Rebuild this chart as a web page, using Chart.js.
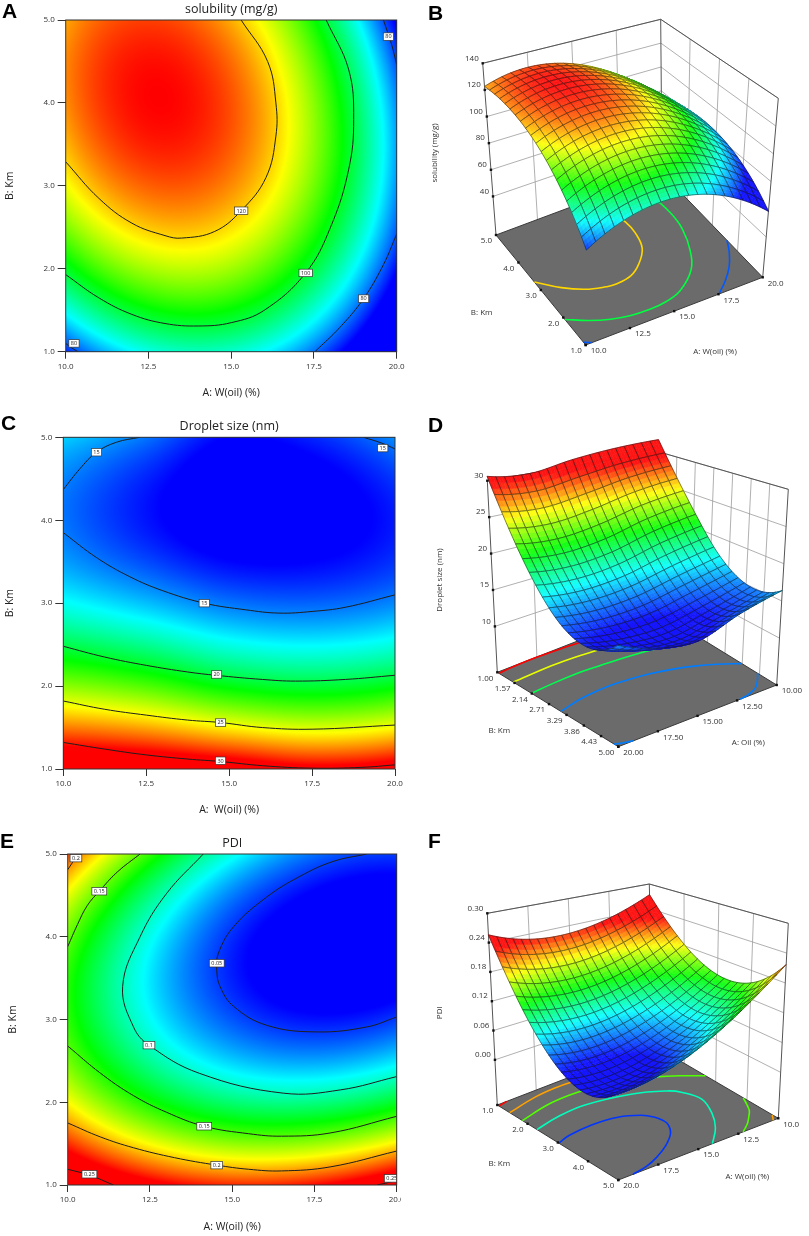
<!DOCTYPE html>
<html>
<head>
<meta charset="utf-8">
<script src="https://cdn.jsdelivr.net/npm/chart.js@4.4.1/dist/chart.umd.min.js"></script>
<style>
html, body { margin: 0; padding: 0; background: #fff; }
body { width: 809px; height: 1236px; position: relative; overflow: hidden; }
.pane { position: absolute; overflow: hidden; }
.inner { position: absolute; left: 0; top: 0; }
.tag { position: absolute; font: bold 21px "Liberation Sans", Arial, sans-serif; line-height: 21px; color: #000; }
</style>
</head>
<body>
<div class="pane" style="left:0;top:0;width:409px;height:410px"><canvas id="cA"></canvas></div>
<div class="pane" style="left:410px;top:0;width:399px;height:410px"><canvas id="cB"></canvas></div>
<div class="pane" style="left:0;top:410px;width:409px;height:420px"><canvas id="cC"></canvas></div>
<div class="pane" style="left:410px;top:410px;width:399px;height:420px"><canvas id="cD"></canvas></div>
<div class="pane" style="left:0;top:830px;width:401px;height:406px"><div class="inner" style="width:409px;height:406px"><canvas id="cE"></canvas></div></div>
<div class="pane" style="left:410px;top:830px;width:399px;height:406px"><canvas id="cF"></canvas></div>
<div class="tag" style="left:2px;top:0px">A</div>
<div class="tag" style="left:428px;top:2px">B</div>
<div class="tag" style="left:1px;top:412px">C</div>
<div class="tag" style="left:428px;top:414px">D</div>
<div class="tag" style="left:0px;top:830px">E</div>
<div class="tag" style="left:428px;top:830px">F</div>
<script>
// ---- factor levels and ticks ----
const oilLevels = [10, 12.5, 15, 17.5, 20];   // A: W(oil) (%)
const kmLevels = [1, 2, 3, 4, 5];             // B: Km
const oilTicks = [10, 12.5, 15, 17.5, 20];
const kmTicks = [1, 2, 3, 4, 5];
const dropKmTicks = [1.00, 1.57, 2.14, 2.71, 3.29, 3.86, 4.43, 5.00];
const solZTicks = [40, 60, 80, 100, 120, 140];
const dropZTicks = [10, 15, 20, 25, 30];
const pdiZTicks = [0, 0.06, 0.12, 0.18, 0.24, 0.30];

// ---- responses, rows = Km 1..5, columns = oil 10..20 ----
const solubility = [
  [77.2, 90.6, 92.0, 81.3, 58.5],
  [101.4, 112.9, 112.4, 99.8, 75.2],
  [117.1, 126.7, 124.2, 109.8, 83.2],
  [124.1, 131.9, 127.5, 111.1, 82.7],
  [122.6, 128.5, 122.2, 103.9, 73.6]
];
const dropletSize = [
  [32.0, 31.7, 31.0, 30.0, 30.6],
  [23.5, 22.5, 21.0, 20.4, 21.0],
  [17.3, 16.1, 14.9, 14.6, 15.2],
  [14.9, 13.3, 12.1, 12.3, 13.4],
  [16.4, 14.9, 13.0, 13.6, 15.3]
];
const pdi = [
  [0.274, 0.238, 0.223, 0.229, 0.256],
  [0.183, 0.138, 0.114, 0.111, 0.128],
  [0.143, 0.089, 0.056, 0.043, 0.051],
  [0.154, 0.091, 0.048, 0.027, 0.025],
  [0.217, 0.144, 0.092, 0.061, 0.051]
];

// ---- contour lines [oil, Km] ----
const sol120 = [[10, 3.29], [11, 2.85], [12, 2.55], [13, 2.4], [13.5, 2.37], [14.5, 2.45], [15.3, 2.7], [16.05, 3.1], [16.35, 3.6], [16.35, 4.0], [16.1, 4.5], [15.3, 5.0]];
const sol100 = [[10, 1.93], [11, 1.65], [12, 1.45], [13, 1.34], [14, 1.31], [15, 1.35], [16, 1.5], [17.25, 1.95], [18, 2.5], [18.55, 3.2], [18.7, 3.8], [18.55, 4.4], [17.87, 5.0]];
const sol80a = [[17.53, 1.0], [18.3, 1.3], [19.0, 1.64], [19.6, 2.05], [20, 2.42]];
const sol80b = [[19.6, 5.0], [19.85, 4.7], [20, 4.46]];
const sol80c = [[10, 1.1], [10.2, 1.04], [10.37, 1.0]];
const solLines = [sol120, sol100, sol80a, sol80b, sol80c];
const solLevels = [120, 100, 80, 80, 80];
const solLabels = [[15.3, 2.7, '120'], [17.25, 1.95, '100'], [19.0, 1.64, '80'], [19.75, 4.8, '80'], [10.25, 1.1, '80']];

const drop15a = [[10, 4.37], [10.5, 4.62], [11, 4.82], [11.6, 4.94], [12.3, 5.0]];
const drop15b = [[19.05, 5.0], [19.6, 4.93], [20, 4.86]];
const drop15c = [[10, 3.85], [11, 3.55], [12, 3.32], [13, 3.15], [14.25, 3.0], [15.5, 2.92], [16.5, 2.88], [17.5, 2.9], [18.5, 2.95], [20, 3.1]];
const drop20 = [[10, 2.48], [11.25, 2.35], [12.5, 2.25], [13.75, 2.17], [14.6, 2.13], [16, 2.08], [17, 2.06], [18.5, 2.08], [20, 2.13]];
const drop25 = [[10, 1.82], [11.25, 1.72], [12.5, 1.65], [13.75, 1.59], [14.75, 1.56], [16, 1.5], [17.5, 1.48], [20, 1.53]];
const drop30 = [[10, 1.32], [11.25, 1.24], [12.5, 1.17], [13.75, 1.12], [14.75, 1.09], [16, 1.04], [17.5, 1.01], [19, 1.02], [20, 1.05]];
const dropLines = [drop15a, drop15b, drop15c, drop20, drop25, drop30];
const dropLevels = [15, 15, 15, 20, 25, 30];
const dropLabels = [[11.0, 4.82, '15'], [19.63, 4.87, '15'], [14.25, 3.0, '15'], [14.62, 2.14, '20'], [14.74, 1.56, '25'], [14.74, 1.1, '30']];

const pdi02a = [[10, 4.81], [10.15, 4.9], [10.32, 5.0]];
const pdi015a = [[10, 3.88], [10.3, 4.15], [10.6, 4.38], [10.96, 4.55], [11.5, 4.78], [12.2, 5.0]];
const pdi01 = [[14.12, 5.0], [13.0, 4.52], [12.2, 4.0], [11.67, 3.4], [12.0, 2.91], [12.47, 2.69], [14.0, 2.35], [16.55, 2.11], [18.3, 2.15], [20, 2.31]];
const pdi005 = [[19.09, 5.0], [18.07, 4.91], [17.06, 4.73], [16.05, 4.48], [15.04, 4.12], [14.58, 3.8], [14.53, 3.6], [14.63, 3.4], [15.04, 3.16], [16.05, 2.93], [17.57, 2.85], [19.09, 2.91], [20, 3.03]];
const pdi015b = [[10, 2.68], [11, 2.35], [12, 2.08], [13, 1.88], [14.15, 1.71], [15.5, 1.62], [16.5, 1.59], [18, 1.63], [20, 1.83]];
const pdi02b = [[10, 1.75], [11, 1.58], [12, 1.45], [13.25, 1.33], [14.53, 1.24], [15.5, 1.19], [16.5, 1.17], [18, 1.22], [20, 1.41]];
const pdi025a = [[10, 1.19], [10.66, 1.12], [11.39, 1.0]];
const pdi025b = [[19.4, 1.0], [19.75, 1.03], [20, 1.06]];
const pdiLines = [pdi02a, pdi015a, pdi01, pdi005, pdi015b, pdi02b, pdi025a, pdi025b];
const pdiLevels = [0.2, 0.15, 0.1, 0.05, 0.15, 0.2, 0.25, 0.25];
const pdiLabels = [[10.25, 4.95, '0.2'], [10.96, 4.55, '0.15'], [12.47, 2.69, '0.1'], [14.53, 3.68, '0.05'], [14.15, 1.71, '0.15'], [14.53, 1.24, '0.2'], [10.66, 1.13, '0.25'], [19.85, 1.08, '0.25']];

// ---- colour + surface helpers ----
const rainbowStops = [[0, 0, 255], [0, 255, 255], [0, 255, 0], [255, 255, 0], [255, 0, 0]];
function rainbow(t, lift) {
  t = Math.max(0, Math.min(1, t)) * 4;
  const i = Math.min(3, Math.floor(t)), f = t - i;
  const a = rainbowStops[i], b = rainbowStops[i + 1];
  const c = [0, 1, 2].map(k => a[k] + (b[k] - a[k]) * f);
  if (lift) for (let k = 0; k < 3; k++) c[k] += (255 - c[k]) * lift;
  return c;
}
const css = c => 'rgb(' + c.map(Math.round).join(',') + ')';

function padGrid(g) {
  const ext = r => [3 * r[0] - 3 * r[1] + r[2], ...r, 3 * r[r.length - 1] - 3 * r[r.length - 2] + r[r.length - 3]];
  const rows = g.map(ext), n = rows.length;
  const first = rows[0].map((_, k) => 3 * rows[0][k] - 3 * rows[1][k] + rows[2][k]);
  const last = rows[0].map((_, k) => 3 * rows[n - 1][k] - 3 * rows[n - 2][k] + rows[n - 3][k]);
  return [first, ...rows, last];
}
function cr(p0, p1, p2, p3, t) {
  return 0.5 * (2 * p1 + (p2 - p0) * t + (2 * p0 - 5 * p1 + 4 * p2 - p3) * t * t + (3 * p1 - p0 - 3 * p2 + p3) * t * t * t);
}
function sample(pg, a, b) {
  const nx = oilLevels.length, ny = kmLevels.length;
  let gx = (a - oilLevels[0]) / (oilLevels[1] - oilLevels[0]);
  let gy = (b - kmLevels[0]) / (kmLevels[1] - kmLevels[0]);
  gx = Math.max(0, Math.min(nx - 1, gx));
  gy = Math.max(0, Math.min(ny - 1, gy));
  const i = Math.min(nx - 2, Math.floor(gx)), j = Math.min(ny - 2, Math.floor(gy));
  const tx = gx - i, ty = gy - j;
  const col = [];
  for (let k = 0; k < 4; k++) {
    const r = pg[j + k];
    col.push(cr(r[i], r[i + 1], r[i + 2], r[i + 3], tx));
  }
  return cr(col[0], col[1], col[2], col[3], ty);
}

// ---- 2D contour maps ----
const tickFont = { family: 'Open Sans', size: 8 };
const axisFont = { family: 'Open Sans', size: 10.5 };

function heatLayer(o) {
  const pg = padGrid(o.grid);
  return {
    id: 'heat',
    beforeDatasetsDraw(chart) {
      const { ctx, chartArea: ca, scales: { x, y } } = chart;
      const w = Math.round(ca.right - ca.left), h = Math.round(ca.bottom - ca.top);
      const off = document.createElement('canvas');
      off.width = w; off.height = h;
      const octx = off.getContext('2d');
      const img = octx.createImageData(w, h);
      for (let py = 0; py < h; py++) {
        const b = y.getValueForPixel(ca.top + py + 0.5);
        for (let px = 0; px < w; px++) {
          const a = x.getValueForPixel(ca.left + px + 0.5);
          const c = rainbow((sample(pg, a, b) - o.lo) / (o.hi - o.lo));
          const k = (py * w + px) * 4;
          img.data[k] = c[0]; img.data[k + 1] = c[1]; img.data[k + 2] = c[2]; img.data[k + 3] = 255;
        }
      }
      octx.putImageData(img, 0, 0);
      ctx.drawImage(off, ca.left, ca.top, ca.right - ca.left, ca.bottom - ca.top);
    }
  };
}

function marksLayer(o) {
  return {
    id: 'marks',
    afterDatasetsDraw(chart) {
      const { ctx, chartArea: ca, scales: { x, y } } = chart;
      ctx.save();
      ctx.beginPath();
      ctx.rect(ca.left, ca.top, ca.right - ca.left, ca.bottom - ca.top);
      ctx.clip();
      ctx.font = '5.5px "Open Sans"';
      ctx.textAlign = 'center';
      ctx.textBaseline = 'middle';
      o.labels.forEach(l => {
        const cx = x.getPixelForValue(l[0]), cy = y.getPixelForValue(l[1]);
        const tw = ctx.measureText(l[2]).width + 4, th = 7.5;
        ctx.fillStyle = '#fff';
        ctx.fillRect(cx - tw / 2, cy - th / 2, tw, th);
        ctx.strokeStyle = '#333';
        ctx.lineWidth = 0.7;
        ctx.strokeRect(cx - tw / 2, cy - th / 2, tw, th);
        ctx.fillStyle = '#222';
        ctx.fillText(l[2], cx, cy + 0.3);
      });
      ctx.restore();

      ctx.save();
      ctx.strokeStyle = '#333';
      ctx.lineWidth = 1;
      ctx.strokeRect(ca.left, ca.top, ca.right - ca.left, ca.bottom - ca.top);
      ctx.font = '12.5px "Open Sans"';
      ctx.fillStyle = '#222';
      ctx.textAlign = 'center';
      ctx.textBaseline = 'middle';
      ctx.fillText(o.title, (ca.left + ca.right) / 2, ca.top - 10.5);
      ctx.restore();
    }
  };
}

function contourChart(id, o) {
  return new Chart(document.getElementById(id), {
    type: 'scatter',
    data: {
      datasets: o.lines.map(pts => ({
        data: pts.map(p => ({ x: p[0], y: p[1] })),
        showLine: true,
        borderColor: '#1e1e1e',
        borderWidth: 1,
        pointRadius: 0,
        tension: 0.4
      }))
    },
    options: {
      responsive: true,
      maintainAspectRatio: false,
      animation: false,
      events: [],
      layout: { padding: o.pad },
      plugins: { legend: { display: false }, tooltip: { enabled: false } },
      scales: {
        x: {
          type: 'linear', min: 10, max: 20,
          afterBuildTicks: s => { s.ticks = oilTicks.map(v => ({ value: v })); },
          afterFit: s => { s.height = o.xAxisH; },
          ticks: { font: tickFont, color: '#333', padding: 3, maxRotation: 0, autoSkip: false, callback: v => v.toFixed(1) },
          grid: { drawOnChartArea: false, tickLength: 7, color: '#333' },
          border: { display: false },
          title: { display: true, text: o.xTitle, font: axisFont, color: '#222', padding: { top: 0, bottom: o.xTitlePad } }
        },
        y: {
          type: 'linear', min: 1, max: 5,
          afterBuildTicks: s => { s.ticks = kmTicks.map(v => ({ value: v })); },
          afterFit: s => { s.width = o.yAxisW; },
          ticks: { font: tickFont, color: '#333', padding: 3, autoSkip: false, callback: v => v.toFixed(1) },
          grid: { drawOnChartArea: false, tickLength: 8, color: '#333' },
          border: { display: false },
          title: { display: true, text: 'B: Km', font: axisFont, color: '#222', padding: { top: o.yTitlePad, bottom: 0 } }
        }
      }
    },
    plugins: [heatLayer(o), marksLayer(o)]
  });
}

// ---- 3D response surfaces ----
function surfaceChart(id, o) {
  const L = o.lay;
  const c = {};
  ['f0', 'r0', 'l0', 'k0', 'f1', 'r1', 'l1', 'k1'].forEach(k => { c[k] = [L[k][0] - L.left, L[k][1] - L.top]; });
  const uOf = a => (a - o.uFrom) / (o.uTo - o.uFrom);
  const vOf = b => (b - o.vFrom) / (o.vTo - o.vFrom);
  const wOf = z => (z - o.zlo) / (o.zhi - o.zlo);
  const bot = ['f0', 'r0', 'l0', 'k0'], top = ['f1', 'r1', 'l1', 'k1'];
  function P(u, v, w) {
    const m = [(1 - u) * (1 - v), u * (1 - v), (1 - u) * v, u * v];
    let x = 0, y = 0;
    for (let k = 0; k < 4; k++) {
      x += m[k] * (c[bot[k]][0] * (1 - w) + c[top[k]][0] * w);
      y += m[k] * (c[bot[k]][1] * (1 - w) + c[top[k]][1] * w);
    }
    return { x, y };
  }
  const pg = padGrid(o.grid);
  const lineColour = lv => css(rainbow((lv - o.lo) / (o.hi - o.lo)));

  const box = {
    id: 'box3d',
    beforeDatasetsDraw(chart) {
      const { ctx, scales: { x, y } } = chart;
      const px = p => [x.getPixelForValue(p.x), y.getPixelForValue(p.y)];
      const seg = (p, q) => { const a = px(p), b = px(q); ctx.moveTo(a[0], a[1]); ctx.lineTo(b[0], b[1]); };
      ctx.save();
      ctx.strokeStyle = '#9c9c9c';
      ctx.lineWidth = 0.8;
      ctx.beginPath();
      o.zTicks.forEach(z => { const w = wOf(z); seg(P(0, 1, w), P(1, 1, w)); seg(P(1, 0, w), P(1, 1, w)); });
      oilTicks.forEach(a => { const u = uOf(a); if (u > 0.001 && u < 0.999) seg(P(u, 1, 0), P(u, 1, 1)); });
      o.kmTicks.forEach(b => { const v = vOf(b); if (v > 0.001 && v < 0.999) seg(P(1, v, 0), P(1, v, 1)); });
      ctx.stroke();
      ctx.strokeStyle = '#555';
      ctx.lineWidth = 1;
      ctx.beginPath();
      seg(P(0, 1, 0), P(0, 1, 1)); seg(P(1, 1, 0), P(1, 1, 1)); seg(P(1, 0, 0), P(1, 0, 1));
      seg(P(0, 1, 1), P(1, 1, 1)); seg(P(1, 1, 1), P(1, 0, 1));
      ctx.stroke();
      const fl = [P(0, 0, 0), P(1, 0, 0), P(1, 1, 0), P(0, 1, 0)].map(px);
      ctx.beginPath();
      fl.forEach((p, i) => i ? ctx.lineTo(p[0], p[1]) : ctx.moveTo(p[0], p[1]));
      ctx.closePath();
      ctx.fillStyle = '#6b6b6b';
      ctx.fill();
      ctx.strokeStyle = '#3a3a3a';
      ctx.stroke();
      ctx.restore();
    },
    afterDatasetsDraw(chart) {
      const { ctx, scales: { x, y } } = chart;
      const N = 20, S = 3, M = N * S;
      const vert = [], vals = [];
      for (let i = 0; i <= M; i++) {
        vert.push([]); vals.push([]);
        for (let j = 0; j <= M; j++) {
          const a = o.uFrom + (o.uTo - o.uFrom) * i / M, b = o.vFrom + (o.vTo - o.vFrom) * j / M;
          const z = sample(pg, a, b);
          const p = P(i / M, j / M, wOf(z));
          vert[i].push([x.getPixelForValue(p.x), y.getPixelForValue(p.y)]);
          vals[i].push(z);
        }
      }
      const cells = [];
      for (let i = 0; i < N; i++) for (let j = 0; j < N; j++) cells.push([i, j]);
      cells.sort((p, q) => (q[0] + q[1]) - (p[0] + p[1]));
      ctx.save();
      ctx.lineJoin = 'round';
      cells.forEach(([ci, cj]) => {
        for (let si = 0; si < S; si++) {
          for (let sj = 0; sj < S; sj++) {
            const i = ci * S + si, j = cj * S + sj;
            const val = (vals[i][j] + vals[i + 1][j] + vals[i + 1][j + 1] + vals[i][j + 1]) / 4;
            const q = [vert[i][j], vert[i + 1][j], vert[i + 1][j + 1], vert[i][j + 1]];
            const col = css(rainbow((val - o.lo) / (o.hi - o.lo), 0.08));
            ctx.beginPath();
            q.forEach((p, k) => k ? ctx.lineTo(p[0], p[1]) : ctx.moveTo(p[0], p[1]));
            ctx.closePath();
            ctx.fillStyle = col;
            ctx.strokeStyle = col;
            ctx.lineWidth = 0.6;
            ctx.fill();
            ctx.stroke();
          }
        }
        // cell outline
        const i0 = ci * S, j0 = cj * S;
        ctx.beginPath();
        ctx.moveTo(vert[i0][j0][0], vert[i0][j0][1]);
        for (let k = 1; k <= S; k++) ctx.lineTo(vert[i0 + k][j0][0], vert[i0 + k][j0][1]);
        for (let k = 1; k <= S; k++) ctx.lineTo(vert[i0 + S][j0 + k][0], vert[i0 + S][j0 + k][1]);
        for (let k = S - 1; k >= 0; k--) ctx.lineTo(vert[i0 + k][j0 + S][0], vert[i0 + k][j0 + S][1]);
        for (let k = S - 1; k >= 0; k--) ctx.lineTo(vert[i0][j0 + k][0], vert[i0][j0 + k][1]);
        ctx.closePath();
        ctx.lineWidth = 0.6;
        ctx.strokeStyle = 'rgba(20,20,20,0.85)';
        ctx.stroke();
      });
      ctx.restore();

      const px = p => [x.getPixelForValue(p.x), y.getPixelForValue(p.y)];
      ctx.save();
      ctx.fillStyle = '#111';
      const dot = p => { const q = px(p); ctx.fillRect(q[0] - 1.2, q[1] - 1.2, 2.4, 2.4); };
      o.zTicks.forEach(z => dot(P(0, 1, wOf(z))));
      o.kmTicks.forEach(b => dot(P(0, vOf(b), 0)));
      oilTicks.forEach(a => dot(P(uOf(a), 0, 0)));
      ctx.font = '8px "Open Sans"';
      ctx.fillStyle = '#333';
      ctx.textBaseline = 'middle';
      ctx.textAlign = 'right';
      o.zTicks.forEach(z => { const q = px(P(0, 1, wOf(z))); ctx.fillText(o.zFmt(z), q[0] - 4, q[1] - 5); });
      o.kmTicks.forEach(b => { const q = px(P(0, vOf(b), 0)); ctx.fillText(o.abFmt(b), q[0] - 4, q[1] + 6); });
      ctx.textAlign = 'left';
      oilTicks.forEach(a => { const q = px(P(uOf(a), 0, 0)); ctx.fillText(o.abFmt(a), q[0] + 5, q[1] + 6); });
      ctx.textAlign = 'center';
      const at = t => [x.getPixelForValue(t[0] - L.left), y.getPixelForValue(t[1] - L.top)];
      let q = at(L.bTitle); ctx.fillText('B: Km', q[0], q[1]);
      q = at(L.aTitle); ctx.fillText(o.aTitle, q[0], q[1]);
      q = at(L.zTitle);
      ctx.translate(q[0], q[1]);
      ctx.rotate(-Math.PI / 2);
      ctx.fillText(o.zTitle, 0, 0);
      ctx.restore();
    }
  };

  return new Chart(document.getElementById(id), {
    type: 'scatter',
    data: {
      datasets: o.lines.map((pts, k) => ({
        data: pts.map(p => P(uOf(p[0]), vOf(p[1]), 0)),
        showLine: true,
        borderColor: lineColour(o.levels[k]),
        borderWidth: 1.6,
        pointRadius: 0,
        tension: 0.4
      }))
    },
    options: {
      responsive: true,
      maintainAspectRatio: false,
      animation: false,
      events: [],
      layout: { padding: 0 },
      plugins: { legend: { display: false }, tooltip: { enabled: false } },
      scales: {
        x: { type: 'linear', display: false, min: 0, max: L.width },
        y: { type: 'linear', display: false, min: 0, max: L.height, reverse: true }
      }
    },
    plugins: [box]
  });
}

contourChart('cA', {
  grid: solubility, lo: 75, hi: 132, lines: solLines, labels: solLabels,
  title: 'solubility (mg/g)', xTitle: 'A: W(oil) (%)',
  pad: { top: 20, right: 12.3, left: 0, bottom: 0 }, yAxisW: 65.7, xAxisH: 58.3, xTitlePad: 11, yTitlePad: 3.7
});
contourChart('cC', {
  grid: dropletSize, lo: 13, hi: 29.5, lines: dropLines, labels: dropLabels,
  title: 'Droplet size (nm)', xTitle: 'A:  W(oil) (%)',
  pad: { top: 27.3, right: 14, left: 0, bottom: 0 }, yAxisW: 63.3, xAxisH: 61, xTitlePad: 13.7, yTitlePad: 3.7
});
contourChart('cE', {
  grid: pdi, lo: 0.04, hi: 0.23, lines: pdiLines, labels: pdiLabels,
  title: 'PDI', xTitle: 'A: W(oil) (%)',
  pad: { top: 24, right: 12.3, left: 0, bottom: 0 }, yAxisW: 67.7, xAxisH: 51, xTitlePad: 3, yTitlePad: 7
});

surfaceChart('cB', {
  grid: solubility, lo: 75, hi: 132, zlo: 11, zhi: 140, zTicks: solZTicks, kmTicks: kmTicks,
  uFrom: 10, uTo: 20, vFrom: 1, vTo: 5, lines: solLines, levels: solLevels,
  zFmt: z => String(z), abFmt: v => v.toFixed(1),
  zTitle: 'solubility (mg/g)', aTitle: 'A: W(oil) (%)',
  lay: {
    left: 410, top: 0, width: 399, height: 410,
    f0: [585.7, 345], r0: [762.7, 277.3], l0: [496, 235], k0: [662, 173],
    f1: [587, 160], r1: [778.3, 98.3], l1: [482.7, 63.3], k1: [660.7, 19.3],
    zTitle: [435, 153], bTitle: [481.7, 312.3], aTitle: [715, 351.7]
  }
});
surfaceChart('cD', {
  grid: dropletSize, lo: 13, hi: 29.5, zlo: 3.7, zhi: 30, zTicks: dropZTicks, kmTicks: dropKmTicks,
  uFrom: 20, uTo: 10, vFrom: 5, vTo: 1, lines: dropLines, levels: dropLevels,
  zFmt: z => String(z), abFmt: v => v.toFixed(2),
  zTitle: 'Droplet size (nm)', aTitle: 'A: Oil (%)',
  lay: {
    left: 410, top: 410, width: 399, height: 420,
    f0: [618.3, 746.7], r0: [776.7, 685], l0: [497.3, 672.3], k0: [655.7, 610.6],
    f1: [617, 517], r1: [788.3, 489.3], l1: [487.3, 480.7], k1: [658.3, 451.7],
    zTitle: [440, 580], bTitle: [499.3, 730.7], aTitle: [748.3, 742.7]
  }
});
surfaceChart('cF', {
  grid: pdi, lo: 0.04, hi: 0.23, zlo: -0.0925, zhi: 0.30, zTicks: pdiZTicks, kmTicks: kmTicks,
  uFrom: 20, uTo: 10, vFrom: 5, vTo: 1, lines: pdiLines, levels: pdiLevels,
  zFmt: z => z.toFixed(2), abFmt: v => v.toFixed(1),
  zTitle: 'PDI', aTitle: 'A: W(oil) (%)',
  lay: {
    left: 410, top: 830, width: 399, height: 406,
    f0: [618.3, 1180], r0: [778.3, 1118.3], l0: [497.3, 1105], k0: [653, 1045],
    f1: [614, 943], r1: [788.3, 923.3], l1: [487.3, 913.3], k1: [649.3, 884],
    zTitle: [440, 1012.7], bTitle: [499.3, 1164], aTitle: [747.3, 1176.7]
  }
});
</script>
</body>
</html>
